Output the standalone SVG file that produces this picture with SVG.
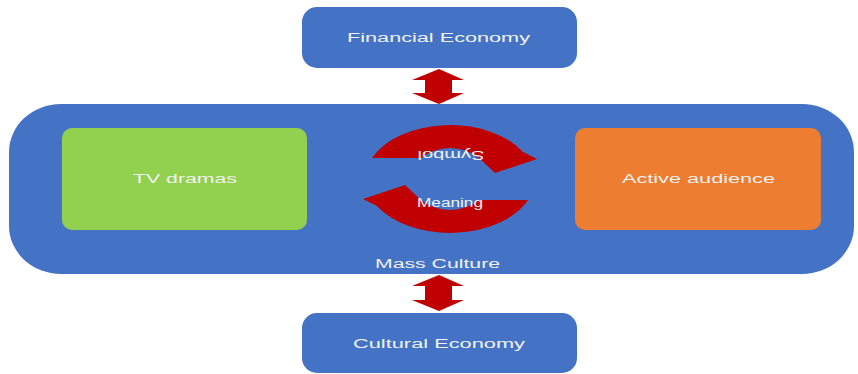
<svg xmlns="http://www.w3.org/2000/svg" width="858" height="374" viewBox="0 0 858 374">
<style>
.blue{fill:#4472C4}
.lbl{font-family:"Liberation Sans",Arial,sans-serif;font-size:12px;fill:#F2F2F2;text-anchor:middle}
.red{fill:#C00000}
</style>
<rect width="858" height="374" fill="#FFFFFF"/>
<g id="mass-culture">
<rect class="blue" x="9" y="104" width="845" height="170" rx="52" ry="48"/>
<text class="lbl" x="437.5" y="268" textLength="125" lengthAdjust="spacingAndGlyphs">Mass Culture</text>
</g>
<g id="financial-economy">
<rect class="blue" x="302" y="7" width="275" height="61" rx="15"/>
<text class="lbl" x="438.5" y="42" textLength="183" lengthAdjust="spacingAndGlyphs">Financial Economy</text>
</g>
<g id="cultural-economy">
<rect class="blue" x="302" y="313" width="275" height="60" rx="15"/>
<text class="lbl" x="439" y="348" textLength="172" lengthAdjust="spacingAndGlyphs">Cultural Economy</text>
</g>
<g id="tv-dramas">
<rect x="62" y="128" width="245" height="102" rx="10" fill="#92D050"/>
<text class="lbl" x="185" y="183" textLength="104" lengthAdjust="spacingAndGlyphs">TV dramas</text>
</g>
<g id="active-audience">
<rect x="575" y="128" width="246" height="102" rx="10" fill="#ED7D31"/>
<text class="lbl" x="698.5" y="183" textLength="153" lengthAdjust="spacingAndGlyphs">Active audience</text>
</g>
<g id="cycle">
<path class="red" d="M 372 158 A 85 55 0 0 1 523 152 L 537 159 L 495 173 L 479 158 A 40 32 0 0 0 421 158 Z"/>
<path class="red" d="M 372 158 A 85 55 0 0 1 523 152 L 537 159 L 495 173 L 479 158 A 40 32 0 0 0 421 158 Z" transform="rotate(180 450 179)"/>
<text class="lbl" x="451" y="159.5" font-size="11" textLength="67" lengthAdjust="spacingAndGlyphs" transform="rotate(180 451 155)">Symbol</text>
<text class="lbl" x="450" y="207" font-size="11" textLength="66" lengthAdjust="spacingAndGlyphs">Meaning</text>
</g>
<g id="connectors">
<path class="red" d="M 439 69 L 464 80 L 452 80 L 452 93 L 464 93 L 439 104 L 412 93 L 425 93 L 425 80 L 412 80 Z"/>
<path class="red" d="M 439 275 L 464 286 L 452 286 L 452 300 L 464 300 L 439 311 L 412 300 L 425 300 L 425 286 L 412 286 Z"/>
</g>
</svg>
